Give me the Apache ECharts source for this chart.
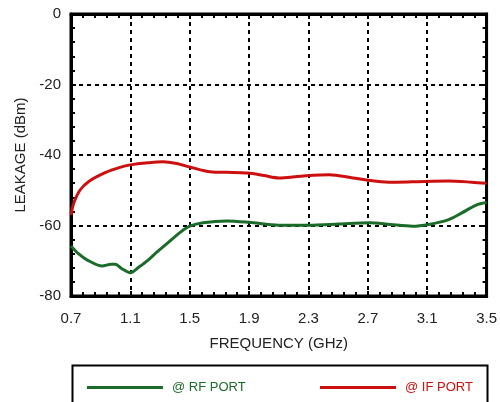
<!DOCTYPE html>
<html>
<head>
<meta charset="utf-8">
<script src="https://cdn.jsdelivr.net/npm/echarts@6/dist/echarts.min.js"></script>
<style>html,body{margin:0;padding:0;background:#fff;}#c{width:500px;height:402px;}</style>
</head>
<body>
<div id="c"></div>
<script>
// Data (frequency in GHz, leakage in dBm)
const X0 = 0.7;
const xTicks = [0.7, 1.1, 1.5, 1.9, 2.3, 2.7, 3.1, 3.5];
const yTicks = [0, -20, -40, -60, -80];
const freqIF = [0.70, 0.72, 0.76, 0.82, 0.93, 1.03, 1.10, 1.22, 1.32, 1.41, 1.50, 1.59, 1.65, 1.75, 1.89, 2.00, 2.10, 2.25, 2.44, 2.60, 2.69, 2.84, 3.00, 3.24, 3.40, 3.50];
const leakIF = [-57, -53.5, -50, -47.5, -45, -43.5, -42.8, -42.2, -41.9, -42.4, -43.4, -44.4, -44.8, -44.9, -45.1, -45.8, -46.5, -46.0, -45.6, -46.5, -47.1, -47.7, -47.6, -47.4, -47.7, -48.0];
const freqRF = [0.70, 0.75, 0.81, 0.91, 0.97, 1.00, 1.04, 1.10, 1.16, 1.22, 1.28, 1.35, 1.44, 1.50, 1.59, 1.75, 1.90, 2.10, 2.30, 2.50, 2.71, 2.85, 3.00, 3.11, 3.24, 3.33, 3.43, 3.50];
const leakRF = [-65.8, -68, -69.8, -71.5, -71.0, -71.0, -72.2, -73.4, -71.7, -69.8, -67.5, -65, -61.8, -60.2, -59.2, -58.7, -59.1, -59.9, -59.9, -59.6, -59.2, -59.7, -60.2, -59.7, -58.4, -56.5, -54.2, -53.5];

const FONT = "'Liberation Sans', Arial, Helvetica, sans-serif";
const GREEN = '#1b6b2a';
const RED = '#cc1010';
const pair = (xs, ys) => xs.map((x, i) => [+(x - X0).toFixed(4), ys[i]]);

const xSpan = xTicks[xTicks.length - 1] - X0;

const chart = echarts.init(document.getElementById('c'));
const tickCommon = {
  axisLine: { show: true, onZero: false, lineStyle: { color: '#000', width: 3 } },
  axisTick: { show: true, inside: true, length: 5, lineStyle: { color: '#000', width: 2 } },
  minorTick: { show: true, splitNumber: 5, length: 4, lineStyle: { color: '#000', width: 2 } },
  splitLine: { show: false }
};
const baseX = Object.assign({ type: 'value', min: 0, max: +xSpan.toFixed(4), interval: 0.4 }, tickCommon);
const baseY = Object.assign({ type: 'value', min: yTicks[yTicks.length - 1], max: yTicks[0], interval: 20 }, tickCommon);
const labelStyle = { color: '#222', fontSize: 15, fontFamily: FONT };

chart.setOption({
  animation: false,
  backgroundColor: '#fff',
  grid: { left: 71, right: 12, top: 14, bottom: 106, show: true, borderColor: '#000', borderWidth: 3 },
  xAxis: [
    Object.assign({}, baseX, {
      position: 'bottom',
      name: 'FREQUENCY (GHz)', nameLocation: 'middle', nameGap: 40,
      nameTextStyle: labelStyle,
      axisLabel: Object.assign({ margin: 15, formatter: v => (v + X0).toFixed(1) }, labelStyle),
      splitLine: { show: true, lineStyle: { color: '#000', width: 2, type: [4, 4] } }
    }),
    Object.assign({}, baseX, { position: 'top', axisLabel: { show: false } })
  ],
  yAxis: [
    Object.assign({}, baseY, {
      position: 'left',
      name: 'LEAKAGE (dBm)', nameLocation: 'middle', nameGap: 35,
      nameTextStyle: labelStyle,
      axisLabel: Object.assign({ margin: 10 }, labelStyle),
      splitLine: { show: true, lineStyle: { color: '#000', width: 2, type: [4, 4] } }
    }),
    Object.assign({}, baseY, { position: 'right', axisLabel: { show: false } })
  ],
  legend: [
    { left: 82, top: 376, data: ['@ RF PORT'], icon: 'rect', itemWidth: 76, itemHeight: 3,
      textStyle: { color: GREEN, fontSize: 13, fontFamily: FONT, padding: [0, 0, 0, 4] } },
    { left: 315, top: 376, data: ['@ IF PORT'], icon: 'rect', itemWidth: 76, itemHeight: 3,
      textStyle: { color: RED, fontSize: 13, fontFamily: FONT, padding: [0, 0, 0, 4] } }
  ],
  graphic: [
    { type: 'rect', left: 70, top: 363, shape: { width: 415, height: 60 },
      style: { fill: 'none', stroke: '#000', lineWidth: 2 }, z: 10 }
  ],
  series: [
    { name: '@ RF PORT', type: 'line', data: pair(freqRF, leakRF), smooth: 0.3, showSymbol: false,
      lineStyle: { color: GREEN, width: 3 }, itemStyle: { color: GREEN } },
    { name: '@ IF PORT', type: 'line', data: pair(freqIF, leakIF), smooth: 0.3, showSymbol: false,
      lineStyle: { color: RED, width: 3 }, itemStyle: { color: RED } }
  ]
});
</script>
</body>
</html>
